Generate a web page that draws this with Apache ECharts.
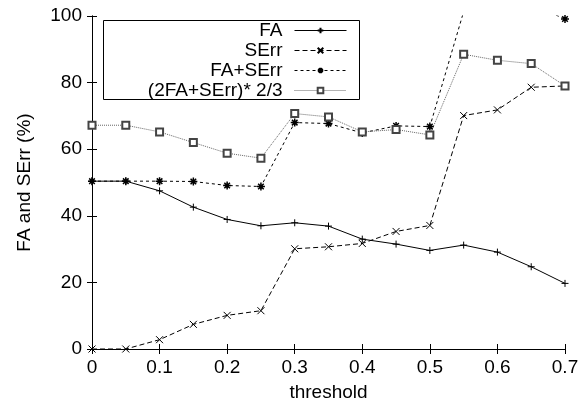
<!DOCTYPE html>
<html>
<head>
<meta charset="utf-8">
<script src="https://cdn.jsdelivr.net/npm/echarts@6/dist/echarts.min.js"></script>
<style>
  html, body { margin: 0; padding: 0; background: #fff; }
  #main { width: 587px; height: 407px; }
</style>
</head>
<body>
<div id="main"></div>
<script>
// 数据
var thresholds = [0, 0.05, 0.1, 0.15, 0.2, 0.25, 0.3, 0.35, 0.4, 0.45, 0.5, 0.55, 0.6, 0.65, 0.7];
var fa = [50.4, 50.4, 47.5, 42.6, 38.9, 37.0, 37.9, 36.9, 33.0, 31.5, 29.6, 31.2, 29.1, 24.7, 19.7];
var serr = [0, 0, 2.8, 7.4, 10.1, 11.5, 30.1, 30.7, 31.7, 35.3, 37.1, 70.1, 71.8, 78.6, 79.0];
// 0.55 - 0.65 are above the top of the plot, estimated from where the line leaves the frame
var faSerr = [50.4, 50.4, 50.4, 50.3, 49.1, 48.8, 68.0, 67.7, 64.9, 67.0, 66.8, 101.3, 101.0, 103.5, 99.1];
var weighted = [67.2, 67.2, 65.2, 62.0, 58.8, 57.3, 70.7, 69.7, 65.2, 65.9, 64.3, 88.5, 86.7, 85.7, 79.0];
var names = ['FA', 'SErr', 'FA+SErr', '(2FA+SErr)* 2/3'];
var xTicks = [0, 0.1, 0.2, 0.3, 0.4, 0.5, 0.6, 0.7];
var yTicks = [0, 20, 40, 60, 80, 100];

var FONT = 'Liberation Sans';
var myChart = echarts.init(document.getElementById('main'));

function pairs(ys) {
    return thresholds.map(function (x, i) { return [x, ys[i]]; });
}

var PLUS = 'path://M5,0L5,10M0,5L10,5';
var CROSS = 'path://M0,0L10,10M10,0L0,10';
var STAR = 'path://M5,0L5,10M0,5L10,5M1.5,1.5L8.5,8.5M8.5,1.5L1.5,8.5';

function axisCommon(show) {
    return {
        axisLine: { show: true, lineStyle: { color: '#000', width: 1 } },
        axisTick: { show: true, inside: true, length: 5, lineStyle: { color: '#000' } },
        axisLabel: { show: show, color: '#000', fontSize: 19, fontFamily: FONT },
        splitLine: { show: false }
    };
}

var xBottom = Object.assign(axisCommon(true), {
    type: 'value', min: 0, max: 0.7, interval: 0.1, position: 'bottom',
    name: 'threshold', nameLocation: 'middle', nameGap: 34,
    nameTextStyle: { color: '#000', fontSize: 19, fontFamily: FONT }
});
xBottom.axisLabel.margin = 9;
xBottom.axisLabel.formatter = function (v) {
    return xTicks.indexOf(Math.round(v * 10) / 10) >= 0 ? String(Math.round(v * 10) / 10) : '';
};
var xTop = Object.assign(axisCommon(false), { type: 'value', min: 0, max: 0.7, interval: 0.1, position: 'top' });

var yLeft = Object.assign(axisCommon(true), {
    type: 'value', min: 0, max: 100, interval: 20, position: 'left',
    name: 'FA and SErr (%)', nameLocation: 'middle', nameGap: 58,
    nameTextStyle: { color: '#000', fontSize: 19, fontFamily: FONT }
});
yLeft.axisLabel.margin = 10;
var yRight = Object.assign(axisCommon(false), { type: 'value', min: 0, max: 100, interval: 20, position: 'right' });

var seriesStyles = [
    { data: fa, symbol: PLUS, size: 7, line: { color: '#000', type: 'solid', width: 1 }, item: { color: '#000', borderColor: '#000', borderWidth: 1 } },
    { data: serr, symbol: CROSS, size: 7, line: { color: '#000', type: [5, 3], width: 1 }, item: { color: '#000', borderColor: '#000', borderWidth: 1 } },
    { data: faSerr, symbol: STAR, size: 8, line: { color: '#000', type: [3, 3], width: 1 }, item: { color: '#000', borderColor: '#000', borderWidth: 1.5 } },
    { data: weighted, symbol: 'emptyRect', size: 7, line: { color: '#666', type: [1, 1], width: 1 }, item: { color: '#444', borderColor: '#444', borderWidth: 1 } }
];

var series = seriesStyles.map(function (s, i) {
    return {
        name: names[i],
        type: 'line',
        data: pairs(s.data),
        symbol: s.symbol,
        symbolSize: s.size,
        showAllSymbol: true,
        clip: true,
        lineStyle: s.line,
        itemStyle: s.item,
        animation: false
    };
});

var legends = names.map(function (n, i) {
    return {
        data: [n],
        orient: 'vertical',
        align: 'right',
        right: 240,
        top: 21 + i * 20,
        padding: 0,
        itemWidth: 52,
        itemHeight: 7,
        selectedMode: false,
        lineStyle: { width: 1 },
        textStyle: { color: '#000', fontSize: 19, fontFamily: FONT, padding: [0, 7, 0, 0] }
    };
});

var option = {
    backgroundColor: '#fff',
    animation: false,
    grid: { left: 92, right: 22, top: 16, bottom: 58 },
    xAxis: [xBottom, xTop],
    yAxis: [yLeft, yRight],
    legend: legends,
    graphic: [{
        type: 'rect',
        shape: { x: 103.5, y: 20.5, width: 256, height: 79 },
        style: { fill: 'none', stroke: '#000', lineWidth: 1 },
        z: 10
    }],
    series: series
};

myChart.setOption(option);
</script>
</body>
</html>
